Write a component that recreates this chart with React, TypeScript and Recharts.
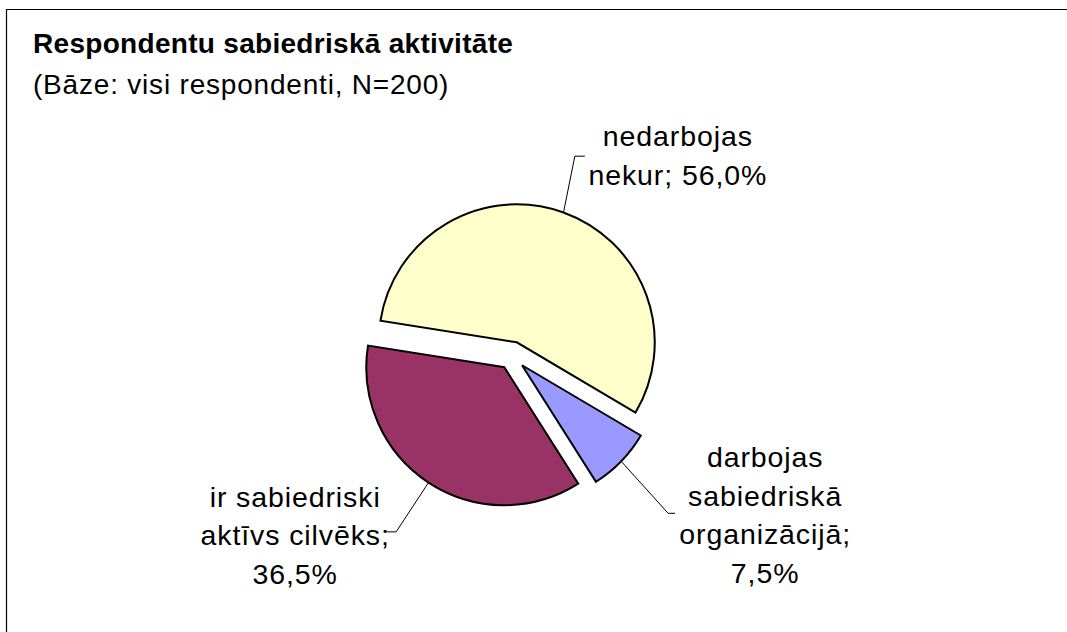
import React from 'react';
import { PieChart, Pie, Cell, Sector, Tooltip } from 'recharts';

const categories = ['nedarbojas nekur', 'darbojas sabiedriskā organizācijā', 'ir sabiedriski aktīvs cilvēks'];
const shares = [56.0, 7.5, 36.5];
const colors = ['#FFFFCC', '#9999FF', '#993366'];
const labelLines = [
  ['nedarbojas', 'nekur;'],
  ['darbojas', 'sabiedriskā', 'organizācijā;'],
  ['ir sabiedriski', 'aktīvs cilvēks;'],
];
const title = 'Respondentu sabiedriskā aktivitāte';
const subtitle = '(Bāze: visi respondenti, N=200)';

const data = categories.map((name, i) => ({ name, value: shares[i] }));

// label placement: leader length, angle bend, text offset from elbow
const labelLayout = [
  { leader: 57, bend: 2.3, tick: 10, dx: 103, dy: -10, pctInline: true },
  { leader: 70, bend: -1.2, tick: 7, dx: 97, dy: -46, pctInline: false },
  { leader: 59, bend: 0, tick: 10, dx: -101, dy: -25, pctInline: false },
];

const W = 1067;
const H = 632;
const EXPLODE = 14;
const RAD = Math.PI / 180;
const FONT = '"Liberation Sans", Arial, sans-serif';
const LINE_H = 38.5;

const fmtPct = (v: number) => `${v.toFixed(1).replace('.', ',')}%`;

const renderSlice = (props: any) => {
  const { cx, cy, midAngle } = props;
  return (
    <Sector
      {...props}
      cx={cx + EXPLODE * Math.cos(-midAngle * RAD)}
      cy={cy + EXPLODE * Math.sin(-midAngle * RAD)}
    />
  );
};

const renderLabel = (props: any) => {
  const { cx, cy, midAngle, outerRadius, index, value } = props;
  const lay = labelLayout[index];
  const r0 = outerRadius + EXPLODE;
  const r1 = r0 + lay.leader;
  const sx = cx + r0 * Math.cos(-midAngle * RAD);
  const sy = cy + r0 * Math.sin(-midAngle * RAD);
  const a = -(midAngle + lay.bend) * RAD;
  const ex = cx + r1 * Math.cos(a);
  const ey = cy + r1 * Math.sin(a);
  const tx = ex + (Math.cos(a) >= 0 ? lay.tick : -lay.tick);
  const lines = [...labelLines[index]];
  if (lay.pctInline) lines[lines.length - 1] += ' ' + fmtPct(value);
  else lines.push(fmtPct(value));
  return (
    <g>
      <polyline points={`${sx},${sy} ${ex},${ey} ${tx},${ey}`} fill="none" stroke="#000" strokeWidth={1} />
      <text
        x={ex + lay.dx}
        y={ey + lay.dy}
        textAnchor="middle"
        fontFamily={FONT}
        fontSize={28.5}
        letterSpacing={0.9}
        fill="#000"
      >
        {lines.map((l, i) => (
          <tspan key={i} x={ex + lay.dx} y={ey + lay.dy + i * LINE_H}>
            {l}
          </tspan>
        ))}
      </text>
    </g>
  );
};

export default function App() {
  return (
    <div style={{ position: 'absolute', left: 0, top: 0, width: W, height: H, background: '#fff' }}>
      <PieChart width={W} height={H} margin={{ top: 0, right: 0, bottom: 0, left: 0 }}>
        <Pie
          data={data}
          dataKey="value"
          nameKey="name"
          cx={512}
          cy={355.5}
          outerRadius={138}
          startAngle={171}
          endAngle={-189}
          stroke="#000"
          strokeWidth={2}
          label={renderLabel}
          labelLine={false}
          shape={renderSlice}
          activeShape={renderSlice}
          inactiveShape={renderSlice}
          isAnimationActive={false}
        >
          {data.map((d, i) => (
            <Cell key={d.name} fill={colors[i]} />
          ))}
        </Pie>
        <Tooltip defaultIndex={0} content={() => null} cursor={false} isAnimationActive={false} />
      </PieChart>
      <svg
        width={W}
        height={H}
        style={{ position: 'absolute', left: 0, top: 0, pointerEvents: 'none' }}
      >
        <path d={`M6.5,${H} V9.5 H${W}`} fill="none" stroke="#000" strokeWidth={1.2} />
        <text x={33} y={53} fontFamily={FONT} fontSize={28} fontWeight="bold" letterSpacing={0.3} fill="#000">
          {title}
        </text>
        <text x={33} y={94} fontFamily={FONT} fontSize={28} letterSpacing={0.8} fill="#000">
          {subtitle}
        </text>
      </svg>
    </div>
  );
}
